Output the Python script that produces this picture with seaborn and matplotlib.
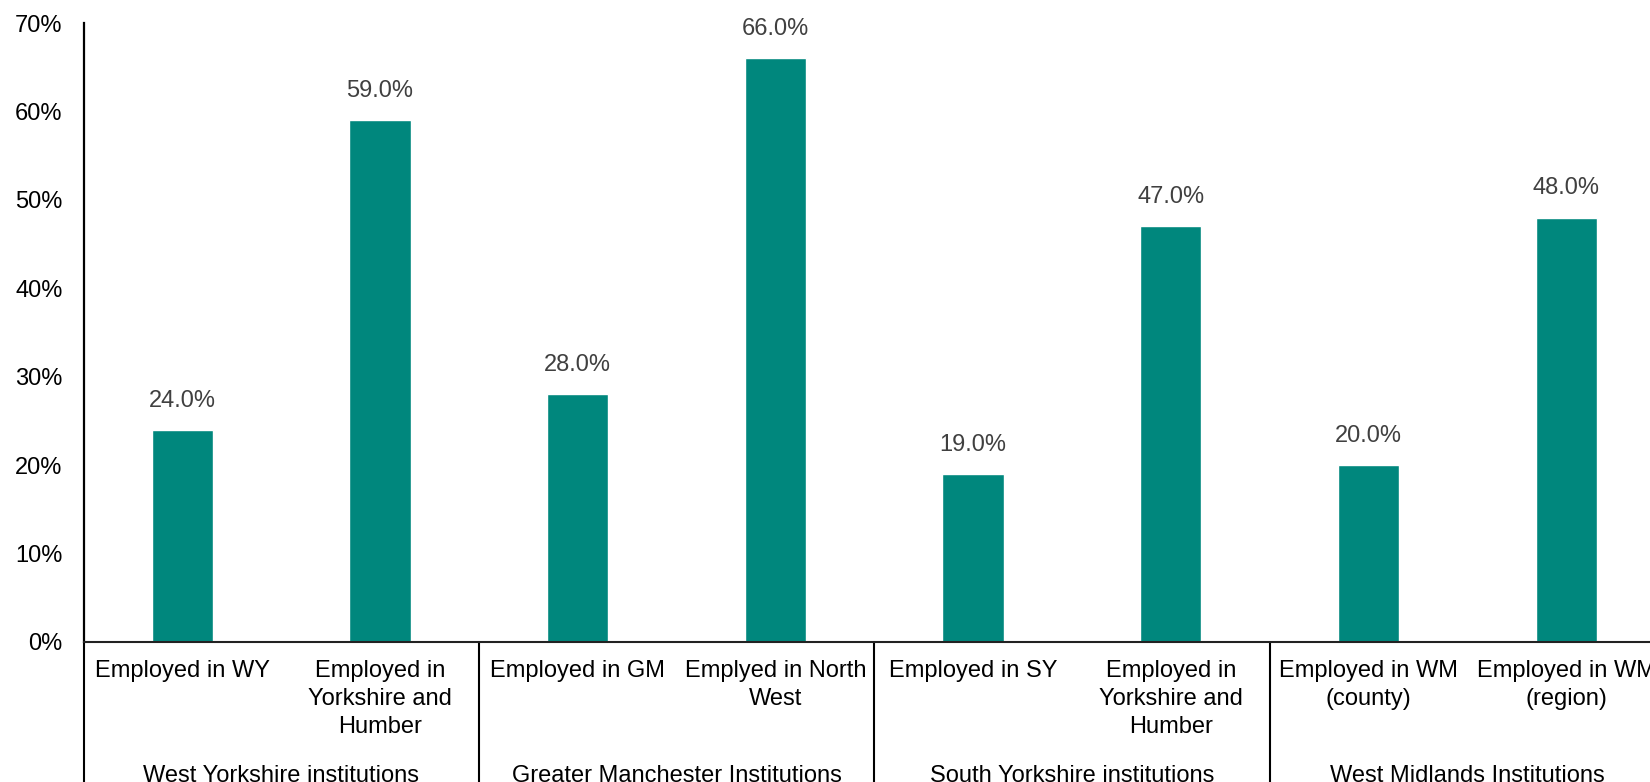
import matplotlib
matplotlib.use("Agg")
import matplotlib.pyplot as plt
import matplotlib.transforms as mtransforms
from matplotlib.ticker import FuncFormatter
import pandas as pd
import seaborn as sns

# Share of graduates employed locally / regionally, by institution group
groups = [
    "West Yorkshire institutions",
    "Greater Manchester Institutions",
    "South Yorkshire institutions",
    "West Midlands Institutions",
]
categories = [
    "Employed in WY", "Employed in\nYorkshire and\nHumber",
    "Employed in GM", "Emplyed in North\nWest",
    "Employed in SY", "Employed in\nYorkshire and\nHumber",
    "Employed in WM\n(county)", "Employed in WM\n(region)",
]
category_group = [0, 0, 1, 1, 2, 2, 3, 3]
values = [0.24, 0.59, 0.28, 0.66, 0.19, 0.47, 0.20, 0.48]
y_ticks = [0.0, 0.1, 0.2, 0.3, 0.4, 0.5, 0.6, 0.7]

sns.set_theme(style="white")
plt.rcParams["font.family"] = ["Liberation Sans", "DejaVu Sans"]

df = pd.DataFrame({
    "key": [f"{groups[g]}|{c}" for g, c in zip(category_group, categories)],
    "label": categories,
    "value": values,
})

W, H, DPI = 1650, 782, 100
fig = plt.figure(figsize=(W / DPI, H / DPI), dpi=DPI)
fig.patch.set_facecolor("white")

# axes frame in pixels: left 83.5, right 1665 (runs past the canvas), baseline 642, 70% at 23
left_px, right_px, base_px, top_px = 83.5, 1665.0, 642.0, 23.0
ax = fig.add_axes([left_px / W, (H - base_px) / H,
                   (right_px - left_px) / W, (base_px - top_px) / H])

bar_color = "#00877D"
sns.barplot(data=df, x="key", y="value", order=list(df["key"]),
            color=bar_color, saturation=1, width=0.31, ax=ax)

ax.set_ylim(0, 0.7)
ax.set_xlim(-0.5, len(categories) - 0.5)
ax.set_yticks(y_ticks)
ax.yaxis.set_major_formatter(FuncFormatter(lambda v, _: f"{v * 100:.0f}%"))
ax.tick_params(axis="y", length=0, pad=15, labelsize=17, labelcolor="black")
ax.set_xticks(range(len(categories)))
ax.set_xticklabels(categories, fontsize=17, color="black", linespacing=1.35)
ax.tick_params(axis="x", length=0, pad=13)
ax.set_xlabel("")
ax.set_ylabel("")

for side in ["top", "right"]:
    ax.spines[side].set_visible(False)
ax.spines["left"].set_color("black")
ax.spines["left"].set_linewidth(1.6)
ax.spines["bottom"].set_color("#222222")
ax.spines["bottom"].set_linewidth(1.5)

# value labels above bars
for patch, v in zip(ax.patches, values):
    ax.annotate(f"{v * 100:.1f}%",
                (patch.get_x() + patch.get_width() / 2, patch.get_height()),
                xytext=(0, 13), textcoords="offset points",
                ha="center", va="bottom", fontsize=17, color="#404040")

# group separators and group labels under the axis
trans = mtransforms.blended_transform_factory(ax.transData, ax.transAxes)
n_groups = len(groups)
for i in range(n_groups + 1):
    xpos = -0.5 + 2 * i
    ax.plot([xpos, xpos], [0, -0.3], transform=trans, color="black",
            linewidth=1.5, clip_on=False)
for i, g in enumerate(groups):
    ax.text(0.5 + 2 * i, -0.216, g, transform=trans, ha="center", va="center",
            fontsize=17, color="black")

fig.savefig("out.png", dpi=DPI, facecolor="white")
